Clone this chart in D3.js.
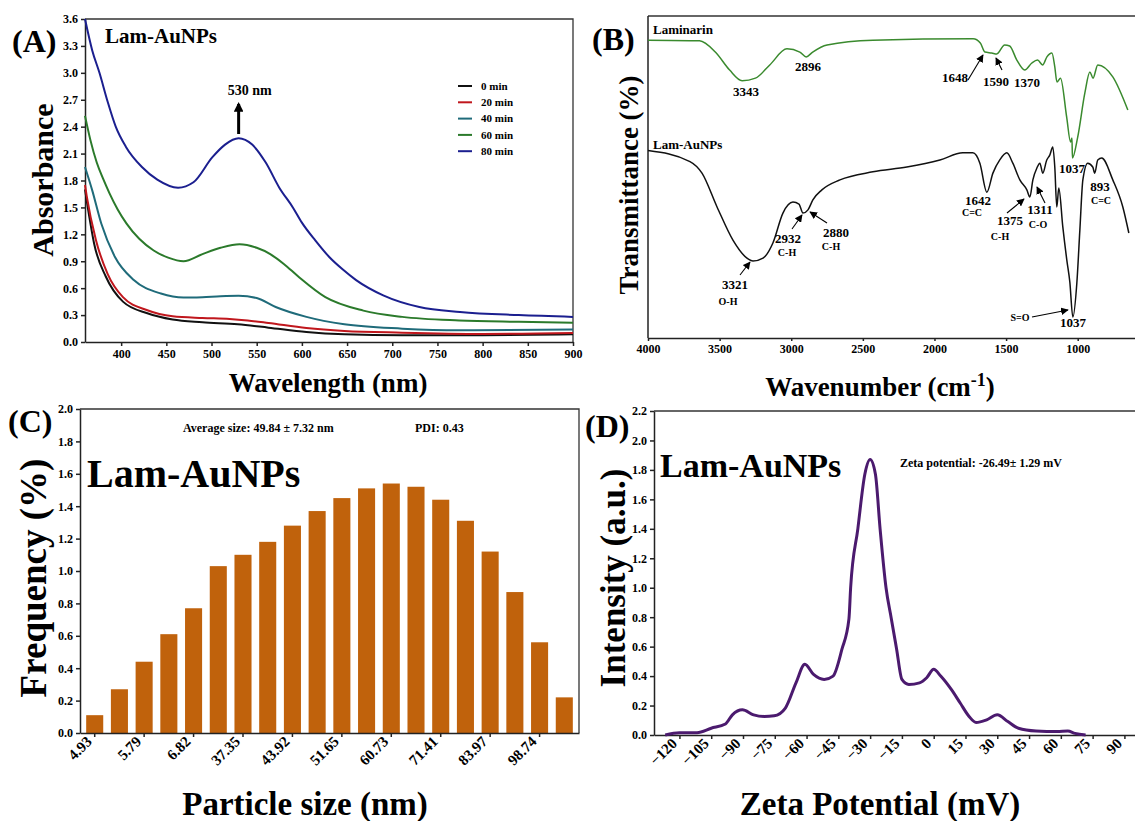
<!DOCTYPE html>
<meta charset="utf-8">
<title>Lam-AuNPs characterisation</title>
<style>
body { margin: 0; background: #fff; }
svg { display: block; background: #fff; }
text { font-family: "Liberation Serif", "Times New Roman", serif; font-weight: bold; fill: #000; }
.axis path, .axis line { stroke: #222; stroke-width: 1.5; }
.axis text { font-size: 12px; }
.frame { stroke: #333; stroke-width: 1.3; fill: none; }
.curve { fill: none; stroke-linejoin: round; }
</style>
<body>
<script src="https://cdn.jsdelivr.net/npm/d3@7"></script>
<script>
// (A) UV-vis, [wavelength nm, absorbance]
var times = ["0 min", "20 min", "40 min", "60 min", "80 min"];
var timeColors = ["#111111", "#c0171d", "#1f6b7a", "#2b7a2b", "#1b1f8f"];
var abs0 = [[360,1.70],[365,1.38],[370,1.10],[383,0.73],[402,0.45],[429,0.32],[457,0.25],[490,0.22],[529,0.197],[563,0.16],[605,0.112],[647,0.086],[711,0.074],[800,0.075],[900,0.085]];
var abs20 = [[360,1.75],[362,1.62],[372,1.14],[385,0.76],[402,0.50],[429,0.354],[457,0.287],[490,0.268],[520,0.257],[540,0.24],[563,0.212],[605,0.156],[647,0.123],[711,0.104],[800,0.09],[900,0.10]];
var abs40 = [[360,1.95],[368,1.69],[378,1.32],[393,0.95],[414,0.69],[444,0.54],[469,0.495],[490,0.50],[510,0.51],[530,0.515],[550,0.49],[571,0.39],[605,0.28],[647,0.197],[711,0.149],[774,0.13],[900,0.138]];
var abs60 = [[360,2.52],[366,2.25],[373,2.0],[380,1.82],[387,1.66],[396,1.48],[406,1.32],[420,1.15],[436,1.02],[452,0.94],[469,0.90],[490,0.98],[510,1.05],[531,1.09],[550,1.05],[565,0.98],[580,0.87],[596,0.73],[626,0.50],[668,0.35],[711,0.28],[774,0.24],[840,0.225],[900,0.215]];
var abs80 = [[360,3.60],[368,3.25],[376,3.00],[385,2.68],[394,2.40],[405,2.18],[423,1.95],[440,1.81],[463,1.72],[480,1.78],[501,2.06],[515,2.20],[530,2.27],[545,2.20],[560,2.00],[575,1.72],[590,1.50],[600,1.33],[615,1.13],[630,0.95],[645,0.81],[660,0.69],[690,0.52],[730,0.39],[775,0.335],[840,0.30],[900,0.28]];

// (B) FTIR, wavenumber (cm-1) and transmittance (arbitrary offset)
var lamWn = [4000,3640,3530,3430,3343,3250,3150,3030,2940,2896,2850,2750,2430,1730,1680,1648,1600,1565,1510,1475,1425,1370,1320,1280,1245,1215,1180,1160,1145,1120,1077,1050,1040,1037,1000,950,915,893,860,755,650];
var lamT = [92.5,92.3,88.8,83.2,79.9,80.7,84.8,89.8,88.8,87.3,88.8,91.0,92.5,92.9,91.6,88.8,88.5,88.2,91.0,90.7,86.3,83.2,85.4,86.3,84.8,87.3,88.5,84.2,79.5,80.7,68.6,60.9,62.1,55.9,62.4,76.1,82.6,80.7,84.8,81.1,70.8];
var npWn = [4000,3707,3623,3518,3407,3309,3267,3197,3128,3058,2988,2946,2918,2883,2849,2786,2660,2430,2193,1962,1802,1732,1683,1634,1592,1544,1495,1453,1404,1355,1334,1313,1285,1264,1244,1216,1195,1174,1160,1146,1132,1104,1076,1055,1034,1006,985,964,930,895,881,860,832,755,685,643];
var npT = [58.2,54.8,51.2,40.7,30.4,24.8,23.9,24.8,29.5,38.8,42.2,41.6,38.8,39.8,42.9,46.0,49.1,51.6,53.1,55.3,57.5,57.5,54.3,45.3,51.2,55.3,57.5,54.3,49.1,46.0,43.8,49.1,52.8,54.3,51.2,55.3,56.8,59.3,53.1,40.7,46.6,34.5,24.2,17.4,6.5,17.1,33.5,49.1,54.3,53.1,51.2,55.3,55.9,49.1,40.7,32.6];
var wnTicks = [4000, 3500, 3000, 2500, 2000, 1500, 1000];

// (C) size distribution
var sizeLabels = ["4.93", "5.79", "6.82", "37.35", "43.92", "51.65", "60.73", "71.41", "83.97", "98.74"];
var freq = [0.11,0.27,0.44,0.61,0.77,1.03,1.10,1.18,1.28,1.37,1.45,1.51,1.54,1.52,1.44,1.31,1.12,0.87,0.56,0.22];

// (D) zeta potential, [mV, intensity]
var zeta = [[-126.7,0],[-120,0.016],[-111.7,0.016],[-105,0.046],[-98.3,0.075],[-95,0.137],[-90.3,0.171],[-85,0.137],[-80,0.126],[-75.3,0.13],[-70,0.183],[-65,0.354],[-60.8,0.48],[-56.7,0.411],[-51.7,0.377],[-47.5,0.40],[-43.3,0.583],[-40,0.789],[-39.2,1.0],[-35.8,1.4],[-32.5,1.77],[-30,1.87],[-27.5,1.77],[-25.3,1.4],[-22.5,1.0],[-20,0.79],[-17.5,0.583],[-15,0.377],[-11.7,0.343],[-6.7,0.354],[-3.3,0.389],[0,0.446],[3.3,0.40],[8.3,0.309],[12.5,0.217],[16.7,0.126],[20,0.085],[25,0.103],[30,0.137],[35,0.091],[40,0.046],[48.3,0.027],[58.3,0.023],[63.3,0.027],[66.7,0.011],[71.7,0]];
var zetaTicks = d3.range(-120, 91, 15);

var width = 1135, height = 821;
var svg = d3.select("body").append("svg")
    .attr("width", width)
    .attr("height", height);

var defs = svg.append("defs");
defs.append("marker")
    .attr("id", "arr")
    .attr("viewBox", "0 0 10 10")
    .attr("refX", 9).attr("refY", 5)
    .attr("markerWidth", 7).attr("markerHeight", 7)
    .attr("orient", "auto")
  .append("path")
    .attr("d", "M0,0L10,5L0,10z")
    .attr("fill", "#000");
defs.append("marker")
    .attr("id", "arrBig")
    .attr("viewBox", "0 0 10 10")
    .attr("refX", 8).attr("refY", 5)
    .attr("markerWidth", 3.2).attr("markerHeight", 3.2)
    .attr("orient", "auto")
  .append("path")
    .attr("d", "M0,0L10,5L0,10z")
    .attr("fill", "#000");

function label(x, y, txt, size, anchor) {
  return svg.append("text")
      .attr("x", x).attr("y", y)
      .attr("font-size", size)
      .attr("text-anchor", anchor || "start")
      .text(txt);
}
function vlabel(x, y, txt, size) {
  return svg.append("text")
      .attr("transform", "translate(" + x + "," + y + ") rotate(-90)")
      .attr("font-size", size)
      .attr("text-anchor", "middle")
      .text(txt);
}
function slant(g) {
  g.selectAll("text")
      .attr("y", 0).attr("x", -8).attr("dy", "0.35em")
      .attr("transform", "rotate(-45)")
      .style("text-anchor", "end")
      .style("font-size", "15px");
}

// ---------- panel A ----------
var xA = d3.scaleLinear().domain([360, 900]).range([85, 573]);
var yA = d3.scaleLinear().domain([0, 3.6]).range([342, 19]);

svg.append("path").attr("class", "frame")
    .attr("d", "M" + xA(360) + "," + yA(3.6) + "H" + xA(900) + "V" + yA(0));
svg.append("g").attr("class", "axis")
    .attr("transform", "translate(0," + yA(0) + ")")
    .call(d3.axisBottom(xA).tickValues(d3.range(400, 901, 50)).tickSize(4).tickSizeOuter(0));
svg.append("g").attr("class", "axis")
    .attr("transform", "translate(" + xA(360) + ",0)")
    .call(d3.axisLeft(yA).tickValues(d3.range(0, 3.61, 0.3)).tickFormat(d3.format(".1f")).tickSize(4).tickSizeOuter(0));

var lineA = d3.line()
    .x(function(d) { return xA(d[0]); })
    .y(function(d) { return yA(d[1]); })
    .curve(d3.curveMonotoneX);
[abs0, abs20, abs40, abs60, abs80].forEach(function(s, i) {
  svg.append("path").attr("class", "curve")
      .attr("d", lineA(s))
      .attr("stroke", timeColors[i])
      .attr("stroke-width", 2);
});

var leg = svg.append("g").attr("transform", "translate(458,86)");
times.forEach(function(t, i) {
  leg.append("line")
      .attr("x1", 0).attr("x2", 14)
      .attr("y1", i * 16.3).attr("y2", i * 16.3)
      .attr("stroke", timeColors[i]).attr("stroke-width", 2);
  leg.append("text")
      .attr("x", 23).attr("y", i * 16.3).attr("dy", "0.35em")
      .attr("font-size", 11)
      .text(t);
});

svg.append("line")
    .attr("x1", xA(530)).attr("x2", xA(530))
    .attr("y1", 134).attr("y2", 104)
    .attr("stroke", "#000").attr("stroke-width", 3)
    .attr("marker-end", "url(#arrBig)");
label(xA(530) + 11, 95, "530 nm", 14, "middle");
label(12, 52, "(A)", 32);
label(105, 43, "Lam-AuNPs", 21);
vlabel(53, 180, "Absorbance", 30);
label(328, 392, "Wavelength (nm)", 27, "middle");

// ---------- panel B ----------
var xB = d3.scaleLinear().domain([4000, 600]).range([648, 1135]);
var yB = d3.scaleLinear().domain([0, 100]).range([338, 16]);

svg.append("path").attr("class", "frame")
    .attr("d", "M" + xB(4000) + "," + yB(100) + "H" + xB(600));
svg.append("line")
    .attr("x1", xB(4000)).attr("x2", xB(4000))
    .attr("y1", yB(100)).attr("y2", yB(0))
    .attr("stroke", "#222").attr("stroke-width", 1.5);
svg.append("g").attr("class", "axis")
    .attr("transform", "translate(0," + yB(0) + ")")
    .call(d3.axisBottom(xB).tickValues(wnTicks).tickFormat(d3.format("d")).tickSize(3).tickSizeOuter(0));

var lineB = d3.line()
    .x(function(d) { return xB(d[0]); })
    .y(function(d) { return yB(d[1]); })
    .curve(d3.curveMonotoneX);
svg.append("path").attr("class", "curve")
    .attr("d", lineB(d3.zip(lamWn, lamT)))
    .attr("stroke", "#3a8a2e").attr("stroke-width", 1.5);
svg.append("path").attr("class", "curve")
    .attr("d", lineB(d3.zip(npWn, npT)))
    .attr("stroke", "#111").attr("stroke-width", 1.5);

label(653, 34, "Laminarin", 13);
label(653, 149, "Lam-AuNPs", 13);

var peakText = [
  ["3343", 746, 96, 13], ["2896", 808, 71, 13], ["1648", 955, 82, 13], ["1590", 996, 86, 13],
  ["1370", 1027, 87, 13], ["1037", 1072, 173, 13], ["893", 1100, 191, 13], ["C=C", 1101, 204, 10],
  ["1642", 978, 205, 13], ["C=C", 972, 216, 10], ["1375", 1010, 225, 13], ["C-H", 1000, 240, 10],
  ["1311", 1040, 214, 13], ["C-O", 1038, 228, 10], ["2932", 788, 243, 13], ["C-H", 787, 256, 10],
  ["2880", 836, 237, 13], ["C-H", 831, 250, 10], ["3321", 735, 289, 13], ["O-H", 728, 305, 10],
  ["S=O", 1020, 321, 10], ["1037", 1073, 327, 13]
];
peakText.forEach(function(p) { label(p[1], p[2], p[0], p[3], "middle"); });

var peakArrows = [
  [968, 80, 983, 55], [1002, 70, 996, 58], [792, 229, 802, 215], [827, 223, 810, 212],
  [740, 275, 750, 262], [1032, 317, 1068, 310], [1007, 213, 1024, 199], [1045, 203, 1037, 187]
];
peakArrows.forEach(function(a) {
  svg.append("line")
      .attr("x1", a[0]).attr("y1", a[1]).attr("x2", a[2]).attr("y2", a[3])
      .attr("stroke", "#000").attr("stroke-width", 1.1)
      .attr("marker-end", "url(#arr)");
});

label(592, 50, "(B)", 32);
vlabel(638, 185, "Transmittance (%)", 27);
var wt = label(880, 396, "Wavenumber (cm", 27, "middle");
wt.append("tspan").attr("dy", -10).attr("font-size", 18).text("-1");
wt.append("tspan").attr("dy", 10).text(")");

// ---------- panel C ----------
var xC = d3.scaleBand().domain(d3.range(freq.length)).range([80, 579]).paddingInner(0.31).paddingOuter(0.25);
var yC = d3.scaleLinear().domain([0, 2.0]).range([733, 409]);

svg.append("path").attr("class", "frame")
    .attr("d", "M80," + yC(2.0) + "H579V" + yC(0));
svg.selectAll("rect.bar")
    .data(freq)
  .enter().append("rect")
    .attr("class", "bar")
    .attr("x", function(d, i) { return xC(i); })
    .attr("width", xC.bandwidth())
    .attr("y", function(d) { return yC(d); })
    .attr("height", function(d) { return yC(0) - yC(d); })
    .attr("fill", "#c0620c");

svg.append("g").attr("class", "axis")
    .attr("transform", "translate(0," + yC(0) + ")")
    .call(d3.axisBottom(xC)
      .tickValues(d3.range(0, freq.length, 2))
      .tickFormat(function(i) { return sizeLabels[i / 2]; })
      .tickSize(4).tickSizeOuter(0))
    .call(slant);
svg.append("g").attr("class", "axis")
    .attr("transform", "translate(80,0)")
    .call(d3.axisLeft(yC).tickValues(d3.range(0, 2.01, 0.2)).tickFormat(d3.format(".1f")).tickSize(4).tickSizeOuter(0));

label(8, 432, "(C)", 32);
label(87, 487, "Lam-AuNPs", 40);
label(183, 432, "Average size: 49.84 \u00b1 7.32 nm", 12);
label(415, 432, "PDI: 0.43", 12);
vlabel(46, 578, "Frequency (%)", 37);
label(305, 815, "Particle size (nm)", 33, "middle");

// ---------- panel D ----------
var xD = d3.scaleLinear().domain([-132, 95]).range([654, 1135]);
var yD = d3.scaleLinear().domain([0, 2.2]).range([735, 411]);

svg.append("path").attr("class", "frame")
    .attr("d", "M" + xD(-132) + "," + yD(2.2) + "H" + xD(95));
svg.append("g").attr("class", "axis")
    .attr("transform", "translate(0," + yD(0) + ")")
    .call(d3.axisBottom(xD).tickValues(zetaTicks).tickSize(4).tickSizeOuter(0))
    .call(slant);
svg.append("g").attr("class", "axis")
    .attr("transform", "translate(" + xD(-132) + ",0)")
    .call(d3.axisLeft(yD).tickValues(d3.range(0, 2.21, 0.2)).tickFormat(d3.format(".1f")).tickSize(4).tickSizeOuter(0));

var lineD = d3.line()
    .x(function(d) { return xD(d[0]); })
    .y(function(d) { return yD(d[1]); })
    .curve(d3.curveMonotoneX);
svg.append("path").attr("class", "curve")
    .attr("d", lineD(zeta))
    .attr("stroke", "#4b1a6e").attr("stroke-width", 3);

label(585, 437, "(D)", 32);
label(660, 477, "Lam-AuNPs", 34);
label(900, 467, "Zeta potential: -26.49\u00b1 1.29 mV", 12);
vlabel(625, 578, "Intensity (a.u.)", 35);
label(880, 815, "Zeta Potential (mV)", 33, "middle");
</script>
